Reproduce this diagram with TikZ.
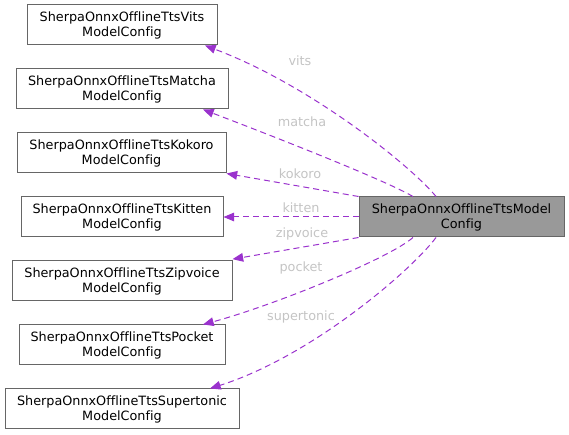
\documentclass[tikz,border=0pt]{standalone}
\usepackage{fontspec}
\setmainfont{DejaVu Sans}[Ligatures=NoCommon]
\usetikzlibrary{arrows.meta}
\definecolor{edgepurple}{HTML}{9A32CD}
\definecolor{labelgray}{HTML}{C4C4C4}
\definecolor{boxborder}{HTML}{666666}
\definecolor{mainfill}{HTML}{999999}
\begin{document}
\begin{tikzpicture}[x=0.75pt,y=-0.75pt,
  box/.style={draw=boxborder,line width=0.75pt,rectangle,minimum height=30pt,inner sep=0pt,align=center,
    font=\fontsize{9.6}{11.25}\selectfont},
  mainbox/.style={box,fill=mainfill},
  edge/.style={draw=edgepurple,line width=0.75pt,dash pattern=on 4.5pt off 3pt,
    -{Triangle[length=8pt,width=6.5pt]}},
  lbl/.style={text=labelgray,font=\fontsize{9.6}{11.25}\selectfont,inner sep=0pt}]
\useasboundingbox (0,0) rectangle (569,435);
\node[box,minimum width=142.5pt] (vits) at (122,25) {SherpaOnnxOfflineTtsVits\\ModelConfig};
\node[box,minimum width=159pt] (matcha) at (122,89) {SherpaOnnxOfflineTtsMatcha\\ModelConfig};
\node[box,minimum width=156.75pt] (kokoro) at (121.5,153) {SherpaOnnxOfflineTtsKokoro\\ModelConfig};
\node[box,minimum width=151.5pt] (kitten) at (122,217) {SherpaOnnxOfflineTtsKitten\\ModelConfig};
\node[box,minimum width=165pt] (zipvoice) at (122,281) {SherpaOnnxOfflineTtsZipvoice\\ModelConfig};
\node[box,minimum width=154.5pt] (pocket) at (122,345) {SherpaOnnxOfflineTtsPocket\\ModelConfig};
\node[box,minimum width=175.5pt] (supertonic) at (122,409) {SherpaOnnxOfflineTtsSupertonic\\ModelConfig};
\node[mainbox,minimum width=153.75pt] (main) at (461.5,217) {SherpaOnnxOfflineTtsModel\\Config};

\draw[edge] ([xshift=-19.1pt]main.north) .. controls (410,165) and (310,85) .. ([xshift=62.25pt]vits.south);
\draw[edge] ([xshift=-36.4pt]main.north) .. controls (385,180) and (270,135) .. ([xshift=60.75pt]matcha.south);
\draw[edge] (main.north west) -- (kokoro.south east);
\draw[edge] (main.west) -- (kitten.east);
\draw[edge] (main.south west) -- ([yshift=1pt]zipvoice.north east);
\draw[edge] ([xshift=-36.4pt]main.south) .. controls (390,258) and (275,305) .. ([xshift=60.75pt]pocket.north);
\draw[edge] ([xshift=-19.1pt]main.south) .. controls (410,272) and (310,357) .. ([xshift=66pt]supertonic.north);

\node[lbl] (lvits) at (300,61) {vits};
\node[lbl] (lmatcha) at (302,122) {matcha};
\node[lbl] (lkokoro) at (300,174) {kokoro};
\node[lbl] (lkitten) at (301,208) {kitten};
\node[lbl] (lzipvoice) at (302,234) {zipvoice};
\node[lbl] (lpocket) at (301,268) {pocket};
\node[lbl] (lsupertonic) at (301,317) {supertonic};
\end{tikzpicture}
\end{document}
